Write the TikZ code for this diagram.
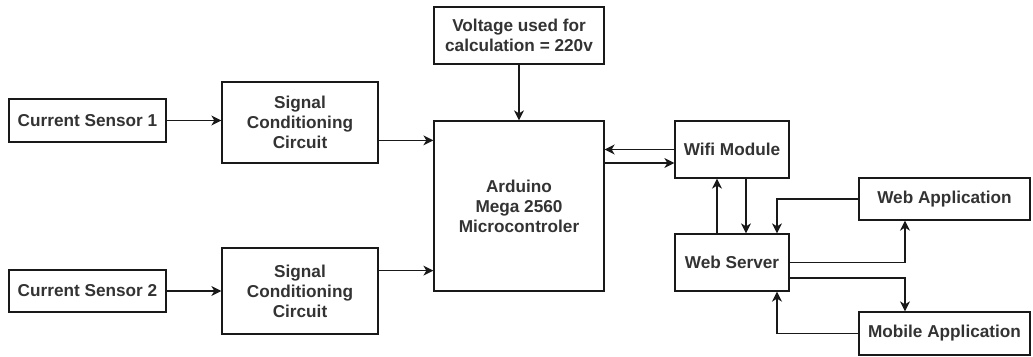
\documentclass[tikz,border=0pt]{standalone}
\usepackage{fontspec}
\setmainfont{Liberation Sans}
\usetikzlibrary{arrows.meta}
\begin{document}
\begin{tikzpicture}[x=1pt,y=-1pt,
  blk/.style={draw=black!90, line width=1.3pt, inner sep=0pt, align=center,
    text=black!80, font=\fontsize{17.2}{20}\selectfont\bfseries},
  arr/.style={draw=black!90, line width=1.3pt, -{Stealth[length=10pt,width=10pt,inset=3pt]}}]
\useasboundingbox (0,0) rectangle (1033,356);
\node[blk, minimum width=157pt, minimum height=43pt] (cs1) at (87.5,120.5) {Current Sensor 1};
\node[blk, minimum width=156pt, minimum height=81pt] (sc1) at (300,122.5) {Signal\\Conditioning\\Circuit};
\node[blk, minimum width=157pt, minimum height=42pt] (cs2) at (87.5,291) {Current Sensor 2};
\node[blk, minimum width=156pt, minimum height=86pt] (sc2) at (300,291) {Signal\\Conditioning\\Circuit};
\node[blk, minimum width=170pt, minimum height=170pt] (ard) at (519,206) {Arduino\\Mega 2560\\Microcontroler};
\node[blk, minimum width=170pt, minimum height=57pt] (volt) at (519,35.5) {Voltage used for\\calculation = 220v};
\node[blk, minimum width=114pt, minimum height=57pt] (wifi) at (732,149.5) {Wifi Module};
\node[blk, minimum width=114pt, minimum height=57pt] (ws) at (732,262.5) {Web Server};
\node[blk, minimum width=171pt, minimum height=42pt] (webapp) at (944.5,199) {Web Application};
\node[blk, minimum width=171pt, minimum height=43pt] (mob) at (944.5,333.5) {Mobile Application};

\coordinate (a1) at ([yshift=-20pt]ard.north west);
\coordinate (a2) at ([yshift=21pt]ard.south west);
\coordinate (w2) at ([yshift=-13.5pt]wifi.west);
\coordinate (s1) at ([xshift=-15pt]ws.north);
\coordinate (s2) at ([xshift=14pt]ws.north);
\coordinate (s3) at ([xshift=45pt]ws.north);
\coordinate (s4) at ([xshift=45pt]ws.south);
\coordinate (s5) at ([yshift=-15.5pt]ws.east);
\coordinate (wa) at ([xshift=-39.5pt]webapp.south);
\coordinate (ma) at ([xshift=-39.5pt]mob.north);

\draw[arr] (cs1.east) -- (cs1.east -| sc1.west);
\draw[arr] (cs2.east) -- (cs2.east -| sc2.west);
\draw[arr] (sc1.east |- a1) -- (a1);
\draw[arr] (sc2.east |- a2) -- (a2);
\draw[arr] (volt.south) -- (ard.north);
\draw[arr] (wifi.west) -- (wifi.west -| ard.east);
\draw[arr] (w2 -| ard.east) -- (w2);
\draw[arr] (s1) -- (s1 |- wifi.south);
\draw[arr] (s2 |- wifi.south) -- (s2);
\draw[arr] (webapp.west) -| (s3);
\draw[arr] (mob.west) -| (s4);
\draw[arr] (ws.east) -| (wa);
\draw[arr] (s5) -| (ma);
\end{tikzpicture}
\end{document}
